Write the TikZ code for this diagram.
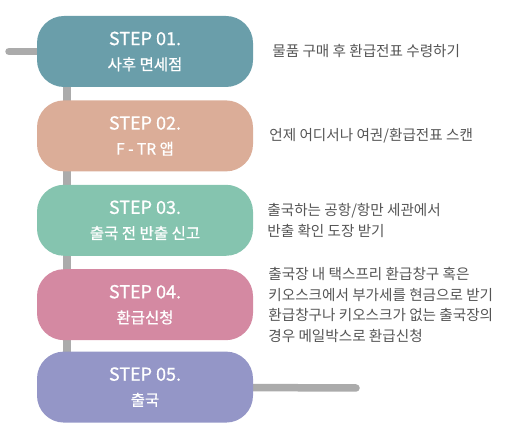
\documentclass[tikz,border=0pt]{standalone}
\usepackage{fontspec}
\setmainfont{Noto Sans CJK KR}
\newfontfamily\pilfont[FakeBold=0.7]{Noto Sans CJK KR}
\usepackage{tikz}
\usetikzlibrary{positioning,backgrounds}
\definecolor{corUm}{RGB}{106,158,170}
\definecolor{corDois}{RGB}{219,173,152}
\definecolor{corTres}{RGB}{133,196,175}
\definecolor{corQuatro}{RGB}{212,137,162}
\definecolor{corCinco}{RGB}{148,150,199}
\definecolor{cinzaTrilho}{RGB}{171,171,171}
\definecolor{cinzaTexto}{RGB}{85,85,85}
\tikzset{
  etapa/.style={rectangle, rounded corners=27pt, draw=none, text=white,
                minimum width=216pt, minimum height=71pt, align=center,
                font=\pilfont\fontsize{18}{25}\selectfont},
  nota/.style={align=left, text=cinzaTexto, inner sep=0pt,
               font=\fontsize{14.6}{20.5}\selectfont},
  trilho/.style={line width=7.5pt, cinzaTrilho, line cap=round},
}
\newcommand{\linhaB}[1]{{\fontsize{15.5}{25}\selectfont #1}}

\begin{document}
\begin{tikzpicture}[x=1pt, y=1pt, node distance=13pt and 15pt]
  \useasboundingbox (0,0) rectangle (505,438);

  \node[etapa, fill=corUm] at (145,386.5) (e1) {STEP 01.\\\linhaB{사후 면세점}};
  \node[etapa, fill=corDois, below=of e1] (e2) {STEP 02.\\\linhaB{F - TR 앱}};
  \node[etapa, fill=corTres, below=of e2] (e3) {STEP 03.\\\linhaB{출국 전 반출 신고}};
  \node[etapa, fill=corQuatro, below=of e3] (e4) {STEP 04.\\\linhaB{환급신청}};
  \node[etapa, fill=corCinco, below=11pt of e4] (e5) {STEP 05.\\\linhaB{출국}};

  \node[nota, right=19pt of e1] (n1) {물품 구매 후 환급전표 수령하기};
  \node[nota, right=16pt of e2] (n2) {언제 어디서나 여권/환급전표 스캔};
  \node[nota, right=14pt of e3] (n3) {출국하는 공항/항만 세관에서\\반출 확인 도장 받기};
  \node[nota, right=15pt of e4] (n4) {출국장 내 택스프리 환급창구 혹은\\키오스크에서 부가세를 현금으로 받기\\환급창구나 키오스크가 없는 출국장의\\경우 메일박스로 환급신청};

  \coordinate (inicio) at (9,386.5);
  \coordinate (fim) at (356,50);

  \begin{scope}[on background layer]
    \draw[trilho] (inicio) -- (e1);
    \draw[trilho] ([xshift=30pt]e1.south west) -- ([xshift=30pt]e5.north west);
    \draw[trilho] (e5) -- (fim);
  \end{scope}
\end{tikzpicture}
\end{document}
